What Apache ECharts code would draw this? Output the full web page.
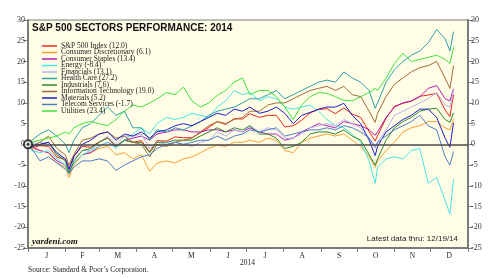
<!DOCTYPE html>
<html>
<head>
<meta charset="utf-8">
<script src="https://cdn.jsdelivr.net/npm/echarts@6/dist/echarts.min.js"></script>
<style>
  html, body { margin: 0; padding: 0; background: #fff; }
  #chart { width: 500px; height: 278px; }
</style>
</head>
<body>
<div id="chart"></div>
<script>
// day of year for each weekly reading (Dec 31 = 0)
const days = [0, 3, 10, 17, 24, 31, 34, 38, 45, 52, 59, 66, 73, 80, 87, 94, 101, 107, 115, 122,
  129, 136, 143, 150, 157, 164, 171, 178, 184, 192, 199, 206, 213, 220, 227, 234, 241, 248, 255, 262,
  269, 276, 283, 288, 290, 297, 304, 311, 318, 325, 332, 339, 346, 350, 353]

const monthStarts = [0, 31, 59, 90, 120, 151, 181, 212, 243, 273, 304, 334, 365]
const monthMids = [15.5, 45, 74.5, 105, 135.5, 166, 196.5, 227.5, 258, 288.5, 319, 349.5]
const monthLetters = ['J', 'F', 'M', 'A', 'M', 'J', 'J', 'A', 'S', 'O', 'N', 'D']

const sectorNames = ['S&P 500 Index (12.0)', 'Consumer Discretionary (6.1)', 'Consumer Staples (13.4)',
  'Energy (-8.4)', 'Financials (13.1)', 'Health Care (27.2)', 'Industrials (7.6)',
  'Information Technology (19.0)', 'Materials (5.2)', 'Telecom Services (-1.7)', 'Utilities (23.4)']
const sectorColors = ['#e8261e', '#f7a032', '#b41eb4', '#48e6e6', '#b4b0f0', '#2ea2a8', '#2e882e',
  '#a06c3c', '#2020c4', '#4c7ec4', '#3ee23e']

// ytd % change
const spx = [0, -0.9, -0.3, -0.5, -3.1, -3.6, -5.8, -2.8, -0.5, -0.7, 0.6, 1.6, -0.4, 1.0, 0.5, 0.9, -1.8, 0.9, 0.8, 1.8,
  1.6, 1.6, 2.8, 4.1, 5.5, 4.8, 6.2, 6.1, 7.4, 6.5, 7.0, 7.0, 4.2, 4.5, 5.8, 7.6, 8.4, 8.6, 7.4, 8.8,
  7.3, 6.5, 3.1, 0.8, 2.1, 6.3, 9.2, 9.9, 10.4, 11.6, 11.9, 12.3, 8.3, 6.7, 12.0]
const consDisc = [0, -1.0, -1.5, -2.0, -4.5, -5.5, -8.0, -5.0, -2.5, -2.0, -1.0, -0.5, -2.5, -2.0, -3.5, -2.5, -6.5, -4.5, -4.0, -4.5,
  -3.5, -3.0, -2.0, -1.0, -0.2, -0.5, 0.5, 0.5, 1.0, 0.5, 1.5, 1.0, -1.5, -2.0, 0.5, 1.5, 2.0, 2.5, 2.0, 2.5,
  1.0, -0.5, -3.0, -5.5, -4.0, -1.5, 0.5, 3.0, 4.0, 4.5, 5.5, 5.5, 4.0, 3.5, 6.1]
const consStaples = [0, -0.5, -1.5, -2.0, -4.0, -5.0, -6.5, -4.5, -2.5, -2.0, -0.5, 0.5, -0.5, 1.0, 1.5, 2.0, 1.0, 2.5, 3.0, 3.5,
  3.5, 3.0, 3.0, 3.5, 3.5, 3.0, 3.5, 3.0, 4.0, 3.0, 2.5, 2.5, 1.0, 1.5, 3.0, 4.0, 5.0, 4.5, 4.0, 5.5,
  5.0, 4.5, 3.5, 2.2, 3.0, 6.5, 9.0, 10.0, 10.5, 11.5, 13.5, 14.2, 11.0, 10.5, 13.4]
const energy = [0, -1.5, -2.0, -1.5, -3.5, -5.0, -7.0, -4.5, -2.5, -1.5, -0.5, 0.5, -1.0, 1.0, 2.5, 4.0, 2.5, 5.0, 6.5, 6.0,
  6.5, 7.5, 7.0, 6.5, 9.0, 10.5, 13.0, 12.0, 12.5, 10.5, 11.5, 11.0, 9.0, 8.5, 9.0, 9.5, 8.0, 6.0, 4.5, 4.0,
  2.5, 0.5, -4.0, -9.4, -5.5, -3.5, -3.0, -3.5, -1.5, -1.0, -9.4, -8.0, -13.5, -16.8, -8.4]
const financials = [0, 0.0, 0.5, 0.0, -2.5, -3.5, -6.0, -3.5, -1.5, -1.5, 0.5, 2.0, 0.0, 2.0, 2.0, 2.5, -1.0, 0.5, 0.0, 0.5,
  0.0, -0.5, 0.5, 1.0, 3.0, 2.0, 3.5, 3.0, 4.5, 3.0, 4.0, 3.5, 1.5, 1.5, 2.5, 4.0, 4.5, 5.0, 4.5, 6.0,
  5.0, 4.0, 1.5, -1.0, 0.5, 3.5, 7.0, 8.0, 9.0, 10.0, 11.0, 12.5, 9.5, 9.0, 13.1]
const healthCare = [0, 1.0, 2.5, 3.5, 2.0, 0.0, -2.0, 1.0, 4.0, 5.0, 7.0, 9.0, 7.0, 8.0, 4.0, 4.0, 1.0, 3.5, 3.0, 4.0,
  3.5, 4.5, 5.5, 7.0, 8.0, 8.5, 9.0, 10.0, 11.0, 11.0, 12.0, 13.0, 11.0, 12.0, 13.0, 14.0, 15.0, 15.5, 15.0, 17.5,
  16.0, 15.0, 13.0, 8.7, 10.0, 15.0, 18.0, 20.0, 21.5, 22.5, 24.5, 27.7, 25.5, 22.5, 27.2]
const industrials = [0, -0.5, 0.0, 0.5, -2.5, -4.0, -7.0, -4.0, -1.5, -1.0, 0.5, 1.5, -0.5, 1.0, 0.5, 0.5, -2.0, 0.5, 0.5, 1.0,
  1.0, 1.0, 2.0, 3.0, 4.0, 3.0, 4.0, 3.5, 4.5, 2.5, 2.5, 1.5, -1.0, -0.5, 0.5, 2.5, 3.0, 3.0, 2.5, 3.5,
  2.0, 1.0, -2.5, -5.0, -3.5, 1.0, 4.0, 5.5, 6.5, 8.0, 8.5, 8.7, 6.0, 5.3, 7.6]
const infoTech = [0, -0.5, 0.5, 2.0, -1.0, -2.5, -5.0, -2.5, 1.0, 1.5, 2.5, 3.0, 1.5, 2.0, 0.5, 0.0, -3.0, 0.0, -0.5, 0.5,
  1.0, 1.5, 3.0, 4.5, 5.5, 5.0, 6.0, 6.5, 8.0, 8.0, 9.5, 10.0, 10.0, 11.0, 12.0, 13.0, 13.5, 14.0, 13.0, 14.0,
  12.0, 11.5, 8.0, 5.3, 7.5, 11.5, 14.5, 16.0, 17.5, 18.5, 19.0, 20.0, 16.0, 13.5, 19.0]
const materials = [0, -0.5, 0.0, 0.5, -2.0, -3.5, -6.0, -3.0, 0.0, 1.0, 2.5, 3.0, 1.0, 2.5, 2.0, 3.0, 1.5, 3.0, 3.5, 4.5,
  5.0, 4.5, 5.5, 6.5, 7.5, 7.0, 8.5, 8.0, 9.0, 7.5, 8.0, 9.0, 7.5, 5.0, 7.0, 7.7, 8.5, 9.0, 9.0, 9.9,
  7.0, 5.0, 1.0, -2.7, -0.5, 3.0, 4.5, 6.0, 7.0, 8.5, 8.5, 6.5, 1.5, -0.7, 5.2]
const telecom = [0, -1.0, -4.0, -3.0, -4.5, -6.0, -7.0, -5.5, -4.0, -4.0, -3.5, -4.0, -6.3, -5.0, -4.0, -3.0, -2.5, -1.0, 0.0, 0.5,
  0.0, 0.5, 1.0, 1.0, 2.0, 1.0, 2.0, 2.5, 3.5, 3.0, 3.5, 4.0, 2.0, 2.5, 3.0, 3.5, 3.5, 4.0, 3.5, 4.5,
  4.0, 3.0, 1.5, -0.5, 0.5, 2.0, 3.5, 4.5, 5.5, 7.0, 4.5, 3.5, -3.0, -5.0, -1.7]
const utilities = [0, 0.5, 1.0, 1.5, 2.0, 3.0, 2.5, 4.0, 5.0, 5.5, 5.0, 4.5, 6.0, 8.0, 9.5, 9.0, 10.0, 11.0, 12.5, 12.0,
  13.8, 10.5, 9.0, 10.0, 11.8, 13.0, 15.0, 16.0, 12.0, 13.0, 13.0, 11.5, 9.0, 6.0, 9.5, 11.5, 12.5, 12.3, 11.5, 10.6,
  10.5, 11.5, 12.5, 13.5, 13.0, 16.0, 19.5, 22.0, 20.0, 20.5, 21.0, 21.5, 20.5, 19.5, 23.4]

const sectorValues = [spx, consDisc, consStaples, energy, financials, healthCare, industrials,
  infoTech, materials, telecom, utilities]

const yTicks = { min: -25, max: 30, interval: 5 }

const chart = echarts.init(document.getElementById('chart'), null, { renderer: 'canvas' })

const serif = 'Liberation Serif'
const sans = 'Liberation Sans'
const axisGray = '#7a7a7a'

const series = sectorNames.map((name, i) => ({
  name: name,
  type: 'line',
  color: sectorColors[i],
  data: days.map((d, j) => [d, sectorValues[i][j]]),
  showSymbol: false,
  lineStyle: { width: 1 },
  z: 3
}))

// zero line across the plot
series[0].markLine = {
  silent: true,
  symbol: 'none',
  label: { show: false },
  lineStyle: { color: '#4a4a4a', width: 1.5, type: 'solid' },
  data: [{ yAxis: 0 }]
}

// start marker at the origin
series.push({
  type: 'scatter',
  data: [[0, 0]],
  symbol: 'emptyCircle',
  symbolSize: 8,
  itemStyle: { color: '#111', borderColor: '#111', borderWidth: 1.5 },
  z: 5
})
series.push({
  type: 'scatter',
  data: [[0, 0]],
  symbolSize: 3,
  itemStyle: { color: '#111' },
  z: 6
})

const yAxisBase = {
  type: 'value',
  min: yTicks.min,
  max: yTicks.max,
  interval: yTicks.interval,
  splitLine: { show: false },
  axisLine: { show: true, lineStyle: { color: axisGray, width: 2 } },
  axisTick: { show: true, length: 5, lineStyle: { color: axisGray } },
  axisLabel: { fontFamily: serif, fontSize: 8, color: '#333', margin: 3 }
}

const option = {
  animation: false,
  backgroundColor: '#ffffff',
  grid: {
    left: 28, right: 32, top: 20, bottom: 30,
    show: true,
    backgroundColor: '#fffde6',
    borderColor: axisGray,
    borderWidth: 1
  },
  title: [
    {
      text: 'S&P 500 SECTORS PERFORMANCE: 2014',
      left: 32, top: 23, padding: 0,
      textStyle: { fontFamily: sans, fontSize: 10, fontWeight: 'bold', color: '#111' }
    },
    {
      text: 'yardeni.com',
      left: 32, top: 237, padding: 0,
      textStyle: { fontFamily: serif, fontSize: 9, fontWeight: 'bold', fontStyle: 'italic', color: '#111' }
    },
    {
      text: 'Latest data thru: 12/19/14',
      right: 42, top: 235, padding: 0,
      textStyle: { fontFamily: sans, fontSize: 8, fontWeight: 'normal', color: '#222' }
    },
    {
      text: '2014',
      left: 240, top: 259, padding: 0,
      textStyle: { fontFamily: serif, fontSize: 7.5, fontWeight: 'normal', color: '#222' }
    },
    {
      text: 'Source: Standard & Poor\u2019s Corporation.',
      left: 28, top: 266, padding: 0,
      textStyle: { fontFamily: serif, fontSize: 7.5, fontWeight: 'normal', color: '#222' }
    }
  ],
  legend: {
    data: sectorNames,
    orient: 'vertical',
    left: 42, top: 42,
    padding: 0,
    itemGap: -1.5,
    itemWidth: 15,
    itemHeight: 1.5,
    icon: 'rect',
    selectedMode: false,
    textStyle: { fontFamily: serif, fontSize: 7.5, lineHeight: 6.6, color: '#222', padding: [0, 0, 0, -1] }
  },
  xAxis: {
    type: 'value',
    min: 0,
    max: 365,
    splitLine: { show: false },
    axisLine: { show: true, onZero: false, lineStyle: { color: axisGray, width: 2 } },
    axisTick: { show: true, length: 4, customValues: monthStarts, lineStyle: { color: axisGray } },
    axisLabel: {
      customValues: monthMids,
      fontFamily: serif, fontSize: 7.5, color: '#222', margin: 4,
      formatter: v => monthLetters[monthMids.indexOf(v)] || ''
    }
  },
  yAxis: [
    Object.assign({}, yAxisBase, { position: 'left' }),
    Object.assign({}, yAxisBase, { position: 'right' })
  ],
  series: series
}

chart.setOption(option)
</script>
</body>
</html>
